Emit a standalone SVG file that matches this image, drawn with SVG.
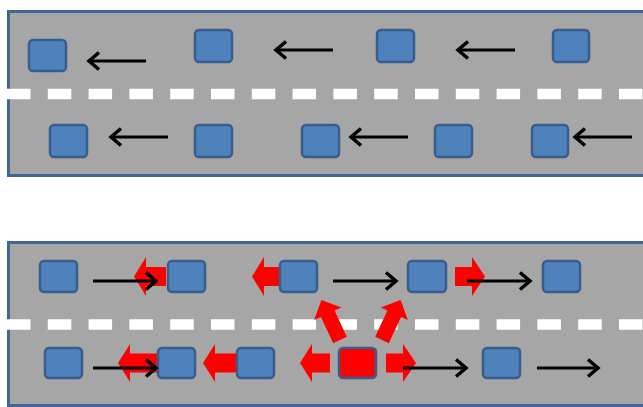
<svg xmlns="http://www.w3.org/2000/svg" width="643" height="407" viewBox="0 0 643 407">
  <defs>
    <style>
      .road { fill: #a6a6a6; stroke: #41649a; stroke-width: 3; }
      .dash { stroke: #ffffff; stroke-width: 10.5; stroke-dasharray: 23.5 17.3; fill: none; }
      .car { fill: #4f81bd; stroke: #385d8a; stroke-width: 2.5; }
      .car-red { fill: #ff0000; stroke: #385d8a; stroke-width: 2.5; }
      .red { fill: #ff0000; stroke: none; }
      .arr { stroke: #000000; stroke-width: 3.2; fill: none; marker-end: url(#head); }
    </style>
    <marker id="head" markerUnits="userSpaceOnUse" markerWidth="16" markerHeight="24" viewBox="0 0 16 24" refX="13" refY="12" orient="auto">
      <path d="M3,3.5 L13,12 L3,20.5" fill="none" stroke="#000000" stroke-width="3.5" stroke-linecap="butt" stroke-linejoin="miter"/>
    </marker>
    <polygon id="upArrow" points="-7.5,0 -7.5,-29 -15,-29 0,-44 15,-29 7.5,-29 7.5,0"/>
  </defs>

  <!-- Top road -->
  <g id="road-top">
    <rect class="road" x="8.5" y="11.5" width="650" height="164"/>
    <line class="dash" x1="7" y1="94" x2="643" y2="94"/>
  </g>

  <!-- Bottom road -->
  <g id="road-bottom">
    <rect class="road" x="8.5" y="242.5" width="650" height="163"/>
    <line class="dash" x1="7" y1="324.5" x2="643" y2="324.5"/>
  </g>

  <!-- Red block arrows -->
  <g id="red-arrows">
    <polygon class="red" points="134,276.5 146,257 146,267 166,267 166,286 146,286 146,296"/>
    <polygon class="red" points="252,276.5 264,257 264,267 283,267 283,286 264,286 264,296"/>
    <polygon class="red" points="485,276.5 472,257 472,267 455,267 455,286 472,286 472,296"/>
    <polygon class="red" points="118,363 130,344 130,353.5 158,353.5 158,372.5 130,372.5 130,382"/>
    <polygon class="red" points="203,363 215,344 215,353.5 237,353.5 237,372.5 215,372.5 215,382"/>
    <polygon class="red" points="300,363 312,344 312,353.5 330,353.5 330,372.5 312,372.5 312,382"/>
    <polygon class="red" points="416,363 403,344 403,353.5 386,353.5 386,372.5 403,372.5 403,382"/>
    <use href="#upArrow" class="red" transform="translate(340,340) rotate(-25)"/>
    <use href="#upArrow" class="red" transform="translate(382,340) rotate(25)"/>
  </g>

  <!-- Cars, top road -->
  <g id="car-t1"><rect class="car" x="29" y="40" width="37" height="31" rx="4"/></g>
  <g id="car-t2"><rect class="car" x="195" y="30" width="37" height="32" rx="4"/></g>
  <g id="car-t3"><rect class="car" x="377" y="30" width="37" height="32" rx="4"/></g>
  <g id="car-t4"><rect class="car" x="553" y="30" width="36" height="32" rx="4"/></g>
  <g id="car-t5"><rect class="car" x="50" y="125" width="37" height="32" rx="4"/></g>
  <g id="car-t6"><rect class="car" x="195" y="125" width="37" height="32" rx="4"/></g>
  <g id="car-t7"><rect class="car" x="302" y="125" width="37" height="32" rx="4"/></g>
  <g id="car-t8"><rect class="car" x="435" y="125" width="37" height="32" rx="4"/></g>
  <g id="car-t9"><rect class="car" x="532" y="125" width="36" height="32" rx="4"/></g>

  <!-- Cars, bottom road -->
  <g id="car-b1"><rect class="car" x="40" y="261" width="37" height="31" rx="4"/></g>
  <g id="car-b2"><rect class="car" x="168" y="261" width="37" height="31" rx="4"/></g>
  <g id="car-b3"><rect class="car" x="280" y="261" width="37" height="31" rx="4"/></g>
  <g id="car-b4"><rect class="car" x="408" y="261" width="38" height="31" rx="4"/></g>
  <g id="car-b5"><rect class="car" x="543" y="261" width="37" height="31" rx="4"/></g>
  <g id="car-b6"><rect class="car" x="45" y="348" width="37" height="30" rx="4"/></g>
  <g id="car-b7"><rect class="car" x="158" y="348" width="37" height="30" rx="4"/></g>
  <g id="car-b8"><rect class="car" x="237" y="348" width="37" height="30" rx="4"/></g>
  <g id="car-b9"><rect class="car-red" x="339" y="348" width="37" height="30" rx="4"/></g>
  <g id="car-b10"><rect class="car" x="483" y="348" width="37" height="30" rx="4"/></g>

  <!-- Black direction arrows -->
  <g id="connectors">
    <line class="arr" x1="146" y1="61" x2="89" y2="61"/>
    <line class="arr" x1="333" y1="50" x2="276" y2="50"/>
    <line class="arr" x1="515" y1="50" x2="458" y2="50"/>
    <line class="arr" x1="168" y1="137" x2="111" y2="137"/>
    <line class="arr" x1="408" y1="137" x2="351" y2="137"/>
    <line class="arr" x1="632" y1="137" x2="575" y2="137"/>
    <line class="arr" x1="93" y1="281" x2="156" y2="281"/>
    <line class="arr" x1="333" y1="281" x2="396" y2="281"/>
    <line class="arr" x1="467" y1="281" x2="530" y2="281"/>
    <line class="arr" x1="93" y1="368" x2="156" y2="368"/>
    <line class="arr" x1="403" y1="368" x2="466" y2="368"/>
    <line class="arr" x1="537" y1="368" x2="598" y2="368"/>
  </g>
</svg>
